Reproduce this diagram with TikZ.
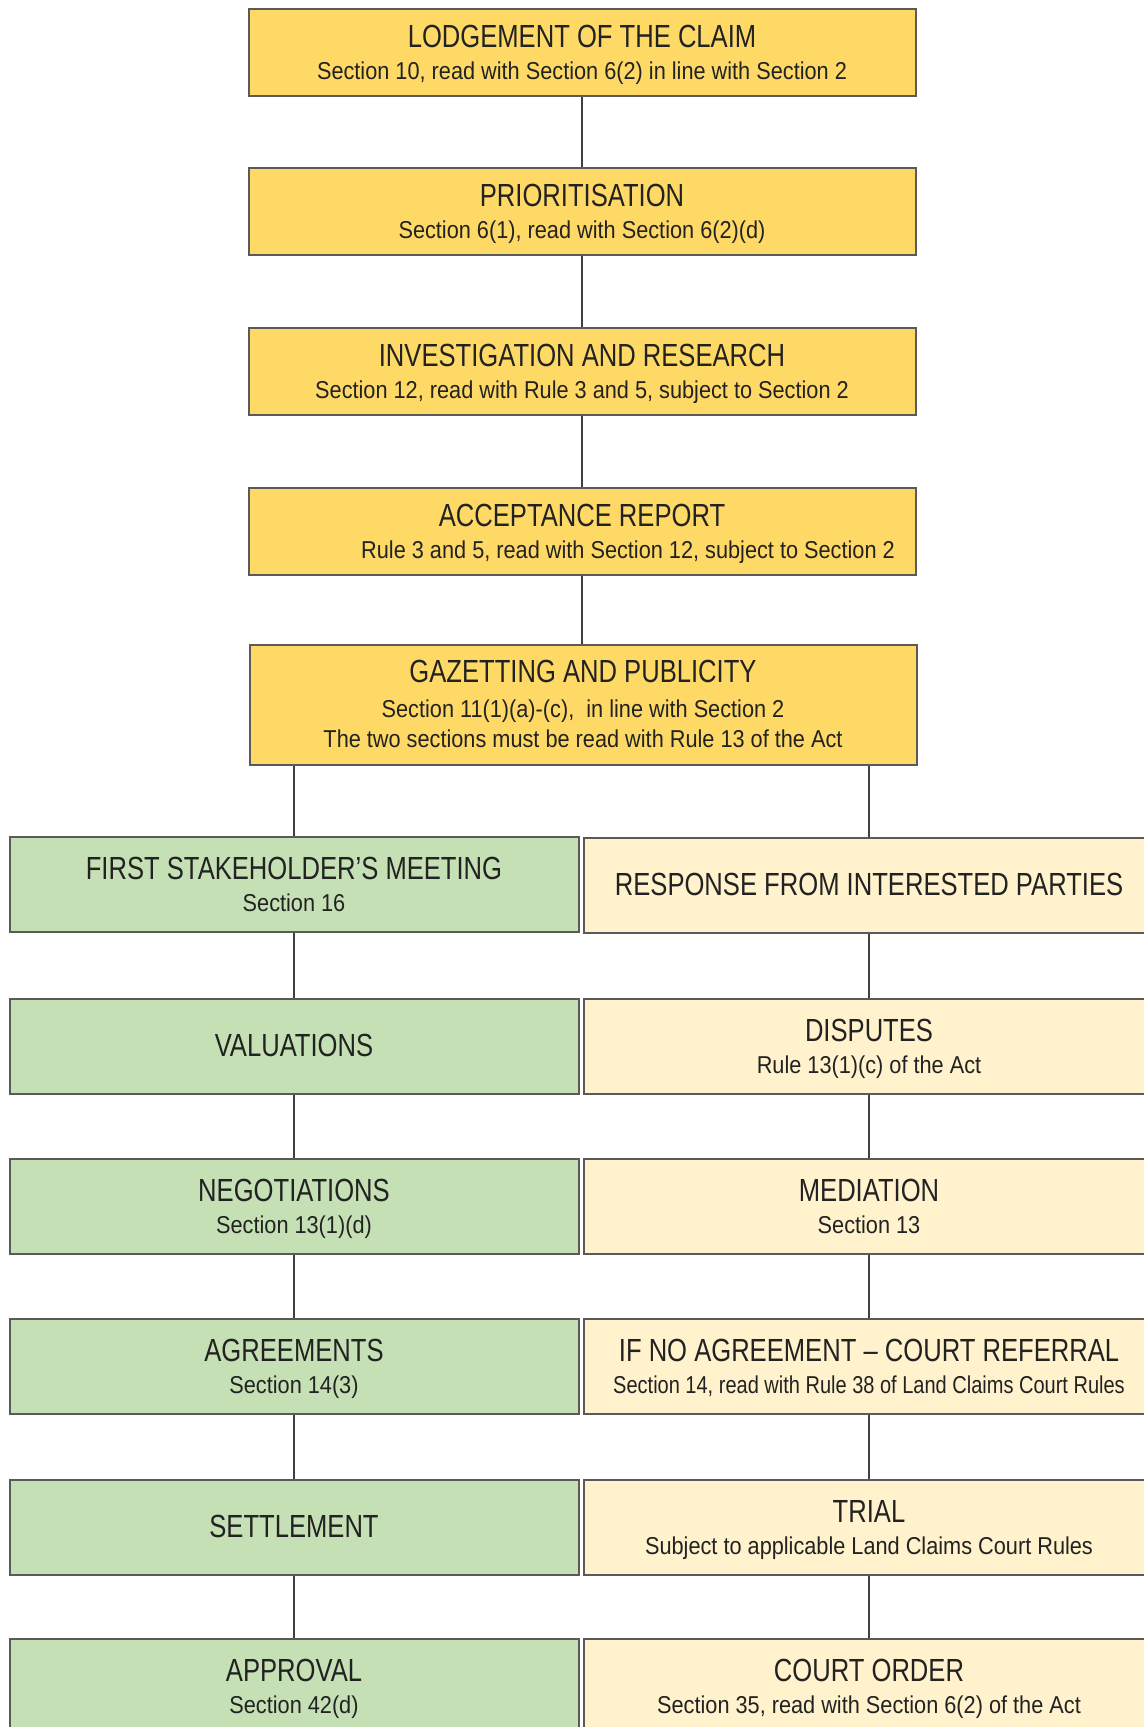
\documentclass[tikz,border=0pt]{standalone}
\usepackage{fontspec}
\setmainfont[FakeStretch=0.8]{Liberation Sans}
\newfontfamily\subfam[FakeStretch=0.89]{Liberation Sans}
\newfontfamily\subnarrow[FakeStretch=0.82]{Liberation Sans}
\definecolor{gold}{HTML}{FFD966}
\definecolor{sage}{HTML}{C5E0B4}
\definecolor{cream}{HTML}{FFF2CC}
\definecolor{edge}{HTML}{5A5A5A}
\definecolor{linkc}{HTML}{404040}
\definecolor{ink}{HTML}{222222}
\begin{document}
\begin{tikzpicture}[x=0.5pt,y=-0.5pt,
  box/.style={draw=edge,line width=1pt,rectangle,inner sep=0pt},
  topbox/.style={box,fill=gold,minimum width=333.5pt,minimum height=43.5pt},
  lbox/.style={box,fill=sage,minimum width=284.5pt,minimum height=47.5pt},
  rbox/.style={box,fill=cream,minimum width=285pt,minimum height=47.5pt},
  ttl/.style={anchor=base,font=\fontsize{16}{18}\selectfont,text=ink,inner sep=0pt},
  sub/.style={anchor=base,font=\subfam\fontsize{12.2}{14}\selectfont,text=ink,inner sep=0pt},
  up/.style={yshift=2.5pt},
  down/.style={yshift=-13.5pt},
  mid/.style={yshift=-5pt},
  link/.style={draw=linkc,line width=1.3pt}]
\clip (0,0) rectangle (1144,1727);
\fill[white] (0,0) rectangle (1144,1727);

% main column
\node[topbox] (lodge) at (582,52.5) {};
\node[ttl,up] (lodgeT) at (lodge.center) {LODGEMENT OF THE CLAIM};
\node[sub,down] (lodgeS) at (lodge.center) {Section 10, read with Section 6(2) in line with Section 2};

\node[topbox] (prio) at (582,212) {};
\node[ttl,up] (prioT) at (prio.center) {PRIORITISATION};
\node[sub,down] (prioS) at (prio.center) {Section 6(1), read with Section 6(2)(d)};

\node[topbox] (inv) at (582,371.5) {};
\node[ttl,up] (invT) at (inv.center) {INVESTIGATION AND RESEARCH};
\node[sub,down] (invS) at (inv.center) {Section 12, read with Rule 3 and 5, subject to Section 2};

\node[topbox] (acc) at (582,531.5) {};
\node[ttl,up] (accT) at (acc.center) {ACCEPTANCE REPORT};
\node[sub,down,xshift=23pt] (accS) at (acc.center) {Rule 3 and 5, read with Section 12, subject to Section 2};

\node[topbox,minimum height=60pt] (gaz) at (583,705) {};
\node[ttl,yshift=11.5pt] (gazT) at (gaz.center) {GAZETTING AND PUBLICITY};
\node[sub,yshift=-6pt] (gazS1) at (gaz.center) {Section 11(1)(a)-(c),\ \ in line with Section 2};
\node[sub,yshift=-21pt] (gazS2) at (gaz.center) {The two sections must be read with Rule 13 of the Act};

% left column
\node[lbox] (l1) at (294,884) {};
\node[ttl,up] (l1T) at (l1.center) {FIRST STAKEHOLDER’S MEETING};
\node[sub,down] (l1S) at (l1.center) {Section 16};

\node[lbox] (l2) at (294,1046) {};
\node[ttl,mid] (l2T) at (l2.center) {VALUATIONS};

\node[lbox] (l3) at (294,1206.5) {};
\node[ttl,up] (l3T) at (l3.center) {NEGOTIATIONS};
\node[sub,down] (l3S) at (l3.center) {Section 13(1)(d)};

\node[lbox] (l4) at (294,1366.5) {};
\node[ttl,up] (l4T) at (l4.center) {AGREEMENTS};
\node[sub,down] (l4S) at (l4.center) {Section 14(3)};

\node[lbox] (l5) at (294,1527) {};
\node[ttl,mid] (l5T) at (l5.center) {SETTLEMENT};

\node[lbox] (l6) at (294,1686.5) {};
\node[ttl,up] (l6T) at (l6.center) {APPROVAL};
\node[sub,down] (l6S) at (l6.center) {Section 42(d)};

% right column
\node[rbox] (r1) at (869,885) {};
\node[ttl,mid] (r1T) at (r1.center) {RESPONSE FROM INTERESTED PARTIES};

\node[rbox] (r2) at (869,1046) {};
\node[ttl,up] (r2T) at (r2.center) {DISPUTES};
\node[sub,down] (r2S) at (r2.center) {Rule 13(1)(c) of the Act};

\node[rbox] (r3) at (869,1206.5) {};
\node[ttl,up] (r3T) at (r3.center) {MEDIATION};
\node[sub,down] (r3S) at (r3.center) {Section 13};

\node[rbox] (r4) at (869,1366.5) {};
\node[ttl,up] (r4T) at (r4.center) {IF NO AGREEMENT – COURT REFERRAL};
\node[sub,down,font=\subnarrow\fontsize{12.2}{14}\selectfont] (r4S) at (r4.center) {Section 14, read with Rule 38 of Land Claims Court Rules};

\node[rbox] (r5) at (869,1527) {};
\node[ttl,up] (r5T) at (r5.center) {TRIAL};
\node[sub,down] (r5S) at (r5.center) {Subject to applicable Land Claims Court Rules};

\node[rbox] (r6) at (869,1686.5) {};
\node[ttl,up] (r6T) at (r6.center) {COURT ORDER};
\node[sub,down] (r6S) at (r6.center) {Section 35, read with Section 6(2) of the Act};

% connectors
\draw[link] (lodge) -- (prio);
\draw[link] (prio) -- (inv);
\draw[link] (inv) -- (acc);
\draw[link] (acc.south) -- (acc.south |- gaz.north);
\draw[link] (gaz.south -| l1.north) -- (l1.north);
\draw[link] (gaz.south -| r1.north) -- (r1.north);
\draw[link] (l1) -- (l2);
\draw[link] (l2) -- (l3);
\draw[link] (l3) -- (l4);
\draw[link] (l4) -- (l5);
\draw[link] (l5) -- (l6);
\draw[link] (r1) -- (r2);
\draw[link] (r2) -- (r3);
\draw[link] (r3) -- (r4);
\draw[link] (r4) -- (r5);
\draw[link] (r5) -- (r6);
\end{tikzpicture}
\end{document}
